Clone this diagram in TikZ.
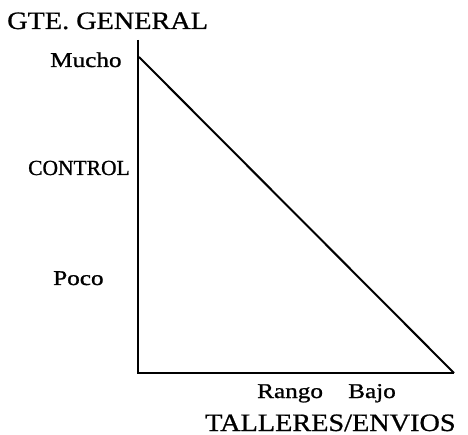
\documentclass[tikz,border=0pt]{standalone}
\usepackage{fontspec}
\setmainfont{Liberation Serif}
\usetikzlibrary{positioning}

\begin{document}
\begin{tikzpicture}[x=1pt,y=-1pt,
    axis/.style={line width=2pt},
    bigtext/.style={inner sep=0pt,anchor=base west,font=\fontsize{25}{27}\selectfont\addfontfeature{FakeStretch=1.13,FakeBold=0.8}},
    label/.style={inner sep=0pt,anchor=base west,font=\fontsize{21}{23}\selectfont\addfontfeature{FakeStretch=1.2,FakeBold=1}}]
      \useasboundingbox (0,0) rectangle (468,435);
      \coordinate (top) at (138,40);
      \coordinate (origin) at (138,373);
      \coordinate (far) at (454,373);
      \coordinate (high) at (139,57);

      \node[bigtext] (gte) at (7,29) {GTE. GENERAL};
      \node[label] (mucho) at (50,67) {Mucho};
      \node[label,font=\fontsize{21.5}{23}\selectfont\addfontfeature{FakeBold=1}] (control) at (28,175) {CONTROL};
      \node[label] (poco) at (53,285) {Poco};
      \node[label] (rango) at (257,398) {Rango};
      \node[label] (bajo) at (348,398) {Bajo};
      \node[bigtext] (talleres) at (205,431) {TALLERES/ENVIOS};

\draw[axis] (top) -- (origin) -- (far);  % ejes
      \draw[axis] (high) -- (far);  % diagonal
    \end{tikzpicture}
\end{document}
